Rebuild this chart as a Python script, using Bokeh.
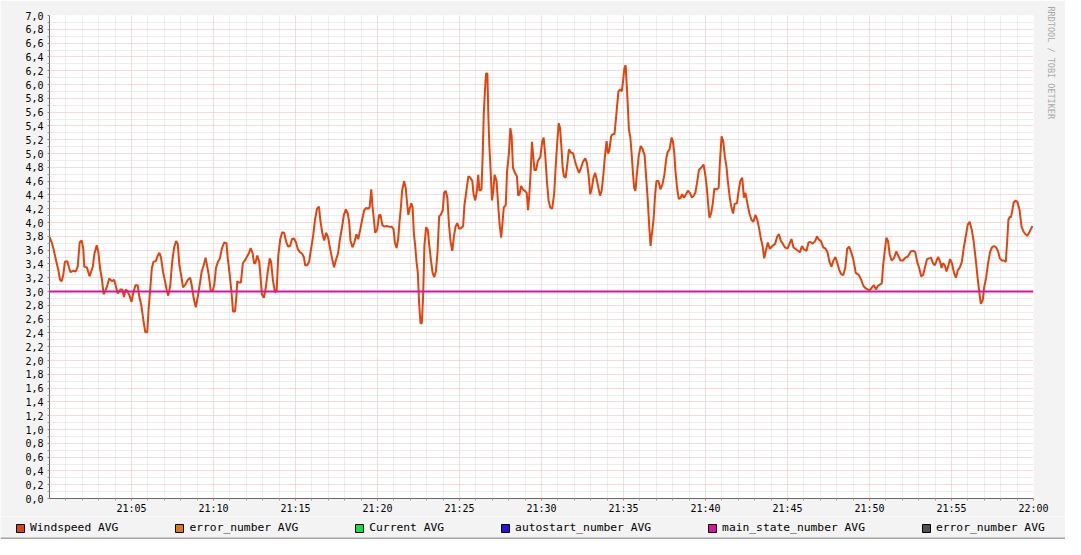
from bokeh.plotting import figure
from bokeh.layouts import column
from bokeh.models import (FixedTicker, Span, Legend, LegendItem, Title)
from bokeh.embed import file_html
from bokeh.resources import INLINE

# ---------------- data ----------------
minutes = [
    0.00, 0.14, 0.27, 0.40, 0.54, 0.64, 0.74, 0.84, 0.94, 1.08, 1.20, 1.28, 1.44, 1.60, 1.72, 1.84, 1.96, 2.06, 2.12, 2.28,
    2.44, 2.54, 2.64, 2.74, 2.88, 2.98, 3.08, 3.20, 3.30, 3.44, 3.54, 3.64, 3.80, 3.94, 4.04, 4.16, 4.32, 4.44, 4.54, 4.64,
    4.74, 4.88, 5.00, 5.10, 5.24, 5.38, 5.48, 5.60, 5.72, 5.84, 5.96, 6.04, 6.14, 6.24, 6.34, 6.48, 6.60, 6.70, 6.80, 6.92,
    7.04, 7.14, 7.24, 7.36, 7.48, 7.60, 7.72, 7.82, 7.92, 8.04, 8.14, 8.28, 8.44, 8.58, 8.68, 8.80, 8.92, 9.04, 9.16, 9.28,
    9.40, 9.52, 9.71, 9.83, 9.95, 10.05, 10.15, 10.27, 10.39, 10.51, 10.65, 10.79, 10.87, 10.99, 11.11, 11.19, 11.31, 11.39,
    11.45, 11.55, 11.67, 11.79, 11.91, 12.03, 12.15, 12.27, 12.39, 12.47, 12.55, 12.67, 12.79, 12.87, 12.95, 13.07, 13.19,
    13.31, 13.43, 13.51, 13.63, 13.75, 13.85, 13.95, 14.07, 14.19, 14.31, 14.43, 14.55, 14.67, 14.79, 14.91, 15.03, 15.15,
    15.27, 15.39, 15.51, 15.59, 15.71, 15.83, 15.95, 16.07, 16.19, 16.31, 16.43, 16.51, 16.63, 16.75, 16.87, 16.99, 17.11,
    17.23, 17.35, 17.47, 17.59, 17.71, 17.83, 17.95, 18.07, 18.19, 18.27, 18.35, 18.47, 18.59, 18.71, 18.83, 18.95, 19.07,
    19.19, 19.31, 19.43, 19.52, 19.62, 19.70, 19.78, 19.86, 19.98, 20.10, 20.18, 20.30, 20.42, 20.56, 20.70, 20.86, 20.98,
    21.06, 21.16, 21.26, 21.34, 21.42, 21.50, 21.62, 21.72, 21.80, 21.88, 21.96, 22.06, 22.14, 22.22, 22.30, 22.38, 22.46,
    22.54, 22.62, 22.70, 22.78, 22.86, 22.96, 23.06, 23.16, 23.26, 23.36, 23.46, 23.56, 23.66, 23.76, 23.86, 23.98, 24.06,
    24.16, 24.26, 24.36, 24.46, 24.56, 24.66, 24.76, 24.86, 24.98, 25.10, 25.22, 25.30, 25.42, 25.54, 25.66, 25.78, 25.86,
    25.96, 26.06, 26.14, 26.22, 26.34, 26.42, 26.48, 26.56, 26.62, 26.70, 26.76, 26.82, 26.90, 26.98, 27.06, 27.14, 27.26,
    27.38, 27.46, 27.54, 27.62, 27.70, 27.82, 27.90, 28.02, 28.10, 28.18, 28.26, 28.38, 28.50, 28.58, 28.66, 28.76, 28.86,
    28.98, 29.10, 29.18, 29.26, 29.34, 29.42, 29.57, 29.67, 29.77, 29.93, 30.05, 30.13, 30.23, 30.33, 30.43, 30.53, 30.65,
    30.77, 30.87, 30.97, 31.05, 31.13, 31.21, 31.29, 31.37, 31.47, 31.57, 31.67, 31.77, 31.93, 32.05, 32.17, 32.29, 32.41,
    32.53, 32.67, 32.77, 32.87, 32.97, 33.07, 33.17, 33.27, 33.37, 33.47, 33.57, 33.67, 33.77, 33.87, 33.97, 34.05, 34.13,
    34.25, 34.33, 34.45, 34.53, 34.61, 34.69, 34.81, 34.89, 34.97, 35.05, 35.13, 35.19, 35.25, 35.33, 35.41, 35.49, 35.57,
    35.65, 35.73, 35.81, 35.93, 36.05, 36.17, 36.29, 36.37, 36.47, 36.57, 36.65, 36.73, 36.83, 36.93, 37.01, 37.13, 37.25,
    37.37, 37.49, 37.61, 37.69, 37.81, 37.93, 38.01, 38.09, 38.17, 38.27, 38.37, 38.49, 38.57, 38.69, 38.81, 38.93, 39.05,
    39.17, 39.29, 39.38, 39.48, 39.60, 39.72, 39.88, 40.00, 40.08, 40.16, 40.24, 40.34, 40.44, 40.54, 40.68, 40.80, 40.88,
    40.98, 41.08, 41.18, 41.28, 41.36, 41.48, 41.58, 41.68, 41.78, 41.92, 42.02, 42.12, 42.24, 42.34, 42.44, 42.56, 42.68,
    42.80, 42.92, 43.04, 43.16, 43.28, 43.38, 43.48, 43.58, 43.68, 43.80, 43.92, 44.08, 44.24, 44.38, 44.48, 44.60, 44.72,
    44.84, 45.00, 45.12, 45.24, 45.36, 45.48, 45.64, 45.76, 45.88, 46.00, 46.16, 46.28, 46.40, 46.52, 46.68, 46.80, 46.88,
    47.04, 47.18, 47.32, 47.44, 47.56, 47.68, 47.80, 47.92, 48.04, 48.16, 48.28, 48.40, 48.52, 48.64, 48.76, 48.88, 49.00,
    49.08, 49.16, 49.35, 49.49, 49.63, 49.75, 49.89, 50.03, 50.15, 50.27, 50.39, 50.51, 50.63, 50.75, 50.83, 50.95, 51.03,
    51.13, 51.23, 51.35, 51.49, 51.63, 51.75, 51.89, 52.03, 52.19, 52.35, 52.51, 52.67, 52.79, 52.91, 53.03, 53.15, 53.27,
    53.39, 53.51, 53.63, 53.75, 53.87, 53.99, 54.09, 54.19, 54.31, 54.39, 54.47, 54.59, 54.69, 54.79, 54.91, 55.03, 55.15,
    55.27, 55.39, 55.51, 55.63, 55.75, 55.87, 55.99, 56.11, 56.23, 56.35, 56.47, 56.59, 56.71, 56.79, 56.91, 56.99, 57.11,
    57.23, 57.35, 57.47, 57.59, 57.71, 57.83, 57.95, 58.07, 58.19, 58.31, 58.39, 58.47, 58.55, 58.63, 58.71, 58.79, 58.91,
    59.03, 59.15, 59.27, 59.39, 59.51, 59.63, 59.75, 59.87, 59.94,
]

windspeed = [
    3.79, 3.71, 3.59, 3.45, 3.31, 3.17, 3.15, 3.24, 3.43, 3.44, 3.34, 3.28, 3.30, 3.29, 3.36, 3.71, 3.74, 3.62, 3.36, 3.35,
    3.22, 3.29, 3.36, 3.55, 3.67, 3.57, 3.34, 3.17, 2.96, 3.03, 3.10, 3.19, 3.15, 3.17, 3.08, 2.97, 3.03, 3.03, 2.92, 3.03,
    3.01, 2.94, 2.85, 2.97, 3.09, 3.09, 2.92, 2.80, 2.59, 2.41, 2.41, 2.73, 3.03, 3.34, 3.43, 3.44, 3.52, 3.56, 3.49, 3.29,
    3.15, 3.03, 2.94, 3.08, 3.43, 3.64, 3.73, 3.69, 3.38, 3.22, 3.06, 3.10, 3.17, 3.20, 3.08, 2.89, 2.77, 2.92, 3.10, 3.29,
    3.38, 3.49, 3.24, 3.01, 3.01, 3.10, 3.34, 3.43, 3.48, 3.62, 3.71, 3.70, 3.48, 3.24, 2.96, 2.71, 2.71, 2.91,
    3.15, 3.13, 3.13, 3.41, 3.45, 3.50, 3.55, 3.63, 3.55, 3.41, 3.41, 3.52, 3.43, 3.20, 2.96, 2.91, 3.06,
    3.29, 3.48, 3.43, 3.15, 2.99, 3.01, 3.52, 3.76, 3.86, 3.85, 3.72, 3.65, 3.66, 3.76, 3.77, 3.71, 3.61,
    3.57, 3.55, 3.50, 3.38, 3.38, 3.43, 3.62, 3.80, 4.04, 4.20, 4.23, 4.04, 3.85, 3.74, 3.85, 3.78, 3.62,
    3.48, 3.35, 3.46, 3.55, 3.76, 3.92, 4.11, 4.19, 4.13, 4.01, 3.74, 3.64, 3.71, 3.83, 3.76, 3.90, 4.05,
    4.18, 4.21, 4.20, 4.22, 4.48, 4.22, 4.04, 3.85, 3.90, 4.11, 4.11, 3.96, 3.94, 3.95, 3.94, 3.94, 3.90,
    3.71, 3.63, 3.76, 4.01, 4.20, 4.46, 4.60, 4.50, 4.29, 4.11, 4.20, 4.28, 4.22, 3.83, 3.66, 3.43, 3.27,
    2.82, 2.54, 2.54, 2.92, 3.66, 3.93, 3.90, 3.66, 3.45, 3.27, 3.21, 3.29, 3.57, 4.09, 4.11, 4.18, 4.43,
    4.46, 4.36, 3.96, 3.71, 3.59, 3.80, 3.94, 3.99, 3.91, 3.92, 3.95, 4.25, 4.46, 4.67, 4.65, 4.60, 4.41,
    4.32, 4.46, 4.69, 4.46, 4.48, 5.02, 5.58, 5.95, 6.16, 6.16, 5.53, 5.11, 4.74, 4.32, 4.46, 4.69, 4.60,
    4.18, 3.94, 3.78, 3.99, 4.22, 4.25, 4.74, 5.02, 5.37, 5.25, 4.79, 4.72, 4.67, 4.39, 4.41, 4.53, 4.48,
    4.46, 4.43, 4.18, 4.41, 4.74, 5.17, 4.76, 4.76, 4.89, 4.95, 5.18, 5.23, 4.97, 4.60, 4.32, 4.22, 4.20,
    4.41, 4.83, 5.20, 5.44, 5.37, 5.11, 4.79, 4.67, 4.65, 4.83, 5.06, 5.02, 5.00, 4.88, 4.79, 4.72, 4.79,
    4.88, 4.93, 4.86, 4.69, 4.41, 4.50, 4.65, 4.72, 4.62, 4.50, 4.39, 4.46, 4.69, 4.97, 5.18, 5.00, 5.04,
    5.25, 5.28, 5.28, 5.48, 5.69, 5.90, 5.93, 5.90, 6.04, 6.23, 6.28, 6.02, 5.76, 5.34, 5.25, 5.02, 4.74,
    4.50, 4.46, 4.69, 4.97, 5.11, 5.06, 4.97, 4.69, 4.36, 3.94, 3.66, 3.83, 4.04, 4.41, 4.60, 4.60, 4.48,
    4.55, 4.69, 4.93, 5.02, 5.06, 5.23, 5.18, 5.02, 4.74, 4.50, 4.34, 4.36, 4.41, 4.36, 4.41, 4.46, 4.43,
    4.36, 4.39, 4.43, 4.57, 4.76, 4.79, 4.84, 4.67, 4.50, 4.27, 4.07, 4.13, 4.27, 4.49, 4.48, 4.50, 4.88,
    5.25, 5.18, 4.95, 4.81, 4.60, 4.36, 4.22, 4.13, 4.27, 4.28, 4.46, 4.60, 4.65, 4.36, 4.43, 4.27, 4.13,
    4.04, 4.01, 4.11, 4.04, 3.90, 3.76, 3.66, 3.48, 3.59, 3.71, 3.62, 3.66, 3.69, 3.80, 3.83, 3.73, 3.69,
    3.64, 3.62, 3.69, 3.76, 3.64, 3.62, 3.59, 3.57, 3.66, 3.61, 3.59, 3.71, 3.72, 3.69, 3.73, 3.80, 3.76,
    3.73, 3.64, 3.62, 3.57, 3.43, 3.36, 3.45, 3.50, 3.41, 3.31, 3.25, 3.24, 3.34, 3.62, 3.65, 3.57, 3.48,
    3.38, 3.27, 3.24, 3.17, 3.08, 3.05, 3.03, 3.02, 3.06, 3.09, 3.03, 3.08, 3.10, 3.12, 3.38, 3.62, 3.78,
    3.73, 3.54, 3.45, 3.48, 3.58, 3.52, 3.45, 3.45, 3.49, 3.51, 3.58, 3.59, 3.57, 3.43, 3.34, 3.22, 3.24,
    3.36, 3.47, 3.48, 3.49, 3.41, 3.38, 3.45, 3.50, 3.43, 3.34, 3.41, 3.38, 3.29, 3.36, 3.47, 3.41, 3.27,
    3.20, 3.31, 3.35, 3.43, 3.64, 3.80, 3.97, 4.01, 3.90, 3.73, 3.48, 3.20, 2.96, 2.82, 2.88, 3.06, 3.20,
    3.41, 3.57, 3.64, 3.66, 3.64, 3.59, 3.48, 3.45, 3.45, 3.43, 3.71, 4.04, 4.08, 4.08, 4.18, 4.29, 4.32,
    4.29, 4.18, 3.94, 3.87, 3.83, 3.81, 3.86, 3.92, 3.95,
]

main_state_value = 3.0

x_start, x_end = 0, 60          # minutes after 21:00
y_start, y_end = 0.0, 7.0

x_major_ticks = [5, 10, 15, 20, 25, 30, 35, 40, 45, 50, 55, 60]
x_tick_labels = ["21:05", "21:10", "21:15", "21:20", "21:25", "21:30",
                 "21:35", "21:40", "21:45", "21:50", "21:55", "22:00"]
x_minor_ticks = [m for m in range(1, 60) if m % 5 != 0]

y_major_ticks = [0.0, 0.2, 0.4, 0.6, 0.8, 1.0, 1.2, 1.4, 1.6, 1.8, 2.0, 2.2, 2.4, 2.6, 2.8, 3.0, 3.2, 3.4,
                 3.6, 3.8, 4.0, 4.2, 4.4, 4.6, 4.8, 5.0, 5.2, 5.4, 5.6, 5.8, 6.0, 6.2, 6.4, 6.6, 6.8, 7.0]
y_tick_labels = ["0,0", "0,2", "0,4", "0,6", "0,8", "1,0", "1,2", "1,4", "1,6", "1,8", "2,0", "2,2",
                 "2,4", "2,6", "2,8", "3,0", "3,2", "3,4", "3,6", "3,8", "4,0", "4,2", "4,4", "4,6",
                 "4,8", "5,0", "5,2", "5,4", "5,6", "5,8", "6,0", "6,2", "6,4", "6,6", "6,8", "7,0"]
y_minor_ticks = [0.1, 0.3, 0.5, 0.7, 0.9, 1.1, 1.3, 1.5, 1.7, 1.9, 2.1, 2.3, 2.5, 2.7, 2.9, 3.1, 3.3, 3.5,
                 3.7, 3.9, 4.1, 4.3, 4.5, 4.7, 4.9, 5.1, 5.3, 5.5, 5.7, 5.9, 6.1, 6.3, 6.5, 6.7, 6.9]

legend_names = ["Windspeed AVG", "error_number AVG", "Current AVG",
                "autostart_number AVG", "main_state_number AVG", "error_number AVG"]
legend_colors = ["#E2400E", "#E07A10", "#10E040", "#2A10E0", "#E010A0", "#505050"]

watermark = "RRDTOOL / TOBI OETIKER"

WIND_COLOR = "#E5420C"
MAIN_STATE_COLOR = "#E010A0"
FONT = "DejaVu Sans Mono"
CANVAS = "#F3F3F3"

W = 1065
H_MAIN = 516
H_LEGEND = 23

# ---------------- main figure ----------------
p = figure(width=W, height=H_MAIN, x_range=(x_start, x_end), y_range=(y_start, y_end),
           output_backend="svg", toolbar_location=None, title=None,
           min_border_left=49, min_border_right=31, min_border_top=15, min_border_bottom=16)
p.background_fill_color = "white"
p.border_fill_color = CANVAS
p.outline_line_color = None
p.frame_align = False

xt = FixedTicker(ticks=x_major_ticks, minor_ticks=x_minor_ticks)
yt = FixedTicker(ticks=y_major_ticks, minor_ticks=y_minor_ticks)
p.xaxis.ticker = xt
p.yaxis.ticker = yt
p.xgrid.ticker = xt
p.ygrid.ticker = yt
p.xaxis.major_label_overrides = dict(zip(x_major_ticks, x_tick_labels))
p.yaxis.major_label_overrides = dict(zip(y_major_ticks, y_tick_labels))

for g in (p.xgrid, p.ygrid):
    g.grid_line_color = "#F2B4B4"
    g.grid_line_dash = "1 1"
    g.grid_line_width = 1
    g.minor_grid_line_color = "#DADADA"
    g.minor_grid_line_dash = "1 1"
    g.minor_grid_line_width = 1

for ax in (p.xaxis, p.yaxis):
    ax.axis_line_color = "#686868"
    ax.axis_line_width = 1
    ax.major_tick_in = 0
    ax.minor_tick_in = 0
    ax.major_tick_out = 2
    ax.minor_tick_out = 2
    ax.major_tick_line_color = "#D07070"
    ax.minor_tick_line_color = "#A0A0A0"
    ax.major_label_text_font = FONT
    ax.major_label_text_font_size = "10px"
    ax.major_label_text_color = "#000000"
p.yaxis.major_label_standoff = 4
p.xaxis.major_label_standoff = 2

# windspeed series
p.line(minutes, windspeed, line_color=WIND_COLOR, line_width=2)

# main_state_number (constant)
p.add_layout(Span(location=main_state_value, dimension="width",
                  line_color=MAIN_STATE_COLOR, line_width=2))

# watermark on the right side
p.add_layout(Title(text=watermark, align="left", offset=-9, vertical_align="top",
                   standoff=20, text_font=FONT, text_font_size="8.5px",
                   text_font_style="normal", text_color="#A8A8A8"), "right")

# ---------------- legend strip ----------------
pl = figure(width=W, height=H_LEGEND, x_range=(0, W), y_range=(0, H_LEGEND),
            output_backend="svg", toolbar_location=None, title=None,
            x_axis_location=None, y_axis_location=None,
            min_border=0, min_border_left=0, min_border_right=0,
            min_border_top=0, min_border_bottom=0)
pl.background_fill_color = CANVAS
pl.border_fill_color = CANVAS
pl.outline_line_color = None
pl.grid.visible = False
pl.frame_align = False

# swatch renderers for the legend (kept outside the visible strip)
items = []
for name, color in zip(legend_names, legend_colors):
    r = pl.quad(left=[-20], right=[-10], top=[-10], bottom=[-20], fill_color=color,
                line_color="#000000", line_width=1)
    items.append(LegendItem(label=name, renderers=[r]))
legend = Legend(items=items, orientation="horizontal", location=(15, 5),
                spacing=56, padding=0, margin=0, glyph_width=10, glyph_height=10,
                label_standoff=5, label_height=10, label_width=10,
                label_text_font=FONT, label_text_font_size="11.3px",
                label_text_color="#000000",
                background_fill_alpha=0, border_line_alpha=0)
pl.add_layout(legend)

# darker lower edge of the canvas
pl.add_layout(Span(location=1, dimension="width", line_color="#A4A4A4", line_width=2))

layout = column(p, pl, spacing=0)

open("out.html", "w").write(file_html(layout, INLINE))
